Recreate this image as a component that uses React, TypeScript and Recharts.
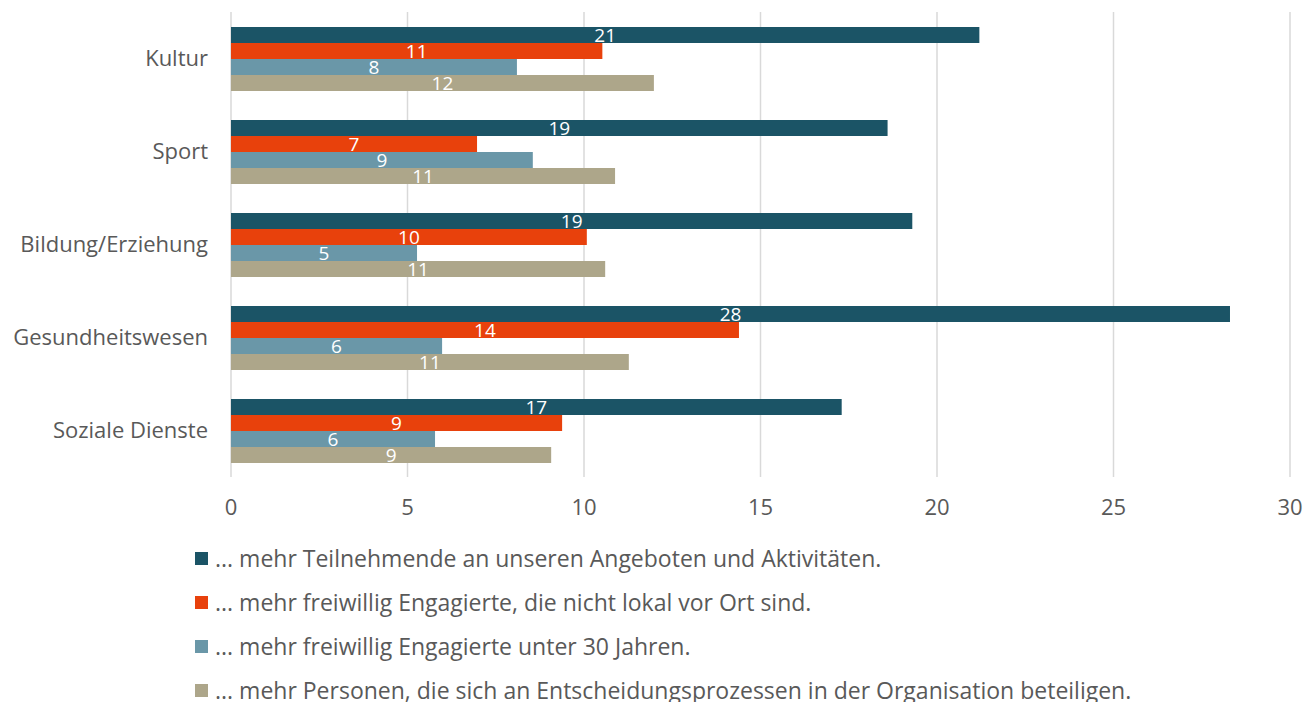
import React from "react"
import { BarChart, Bar, XAxis, YAxis, CartesianGrid, LabelList } from "recharts"

// drop the default body margin so the chart lines up with the page edges
if (typeof document !== "undefined") document.body.style.margin = "0"

const categories = ["Kultur", "Sport", "Bildung/Erziehung", "Gesundheitswesen", "Soziale Dienste"]
const teilnehmende = [21.2, 18.6, 19.3, 28.3, 17.3]
const nichtLokal = [10.52, 6.97, 10.08, 14.39, 9.38]
const unter30 = [8.1, 8.55, 5.27, 5.98, 5.78]
const entscheidung = [11.98, 10.88, 10.6, 11.27, 9.07]
const xTicks = [0, 5, 10, 15, 20, 25, 30]

const seriesNames = [
  "... mehr Teilnehmende an unseren Angeboten und Aktivitäten.",
  "... mehr freiwillig Engagierte, die nicht lokal vor Ort sind.",
  "... mehr freiwillig Engagierte unter 30 Jahren.",
  "... mehr Personen, die sich an Entscheidungsprozessen in der Organisation beteiligen.",
]
const colors = ["#1B5466", "#E8410C", "#6A97A8", "#ADA68A"]

const data = categories.map((name, i) => ({
  name,
  s0: teilnehmende[i],
  s1: nichtLokal[i],
  s2: unter30[i],
  s3: entscheidung[i],
}))

const FONT = "'Open Sans', sans-serif"
const GRAY = "#595959"

export default function App() {
  return (
    <div style={{ position: "relative", width: 1304, height: 702 }}>
      <BarChart
        width={1304}
        height={530}
        data={data}
        layout="vertical"
        margin={{ top: 12, right: 14, bottom: 23, left: 0 }}
        barCategoryGap={15}
        barGap={0}
      >
        <CartesianGrid horizontal={false} stroke="#d9d9d9" strokeWidth={1.5} />
        <XAxis
          type="number"
          domain={[0, 30]}
          ticks={xTicks}
          axisLine={false}
          tickLine={false}
          tickSize={0}
          tickMargin={22}
          tick={{ fill: GRAY, fontSize: 22, fontFamily: FONT }}
        />
        <YAxis
          type="category"
          dataKey="name"
          width={231}
          axisLine={false}
          tickLine={false}
          tickSize={0}
          tickMargin={23}
          tick={{ fill: GRAY, fontSize: 22, fontFamily: FONT }}
        />
        {["s0", "s1", "s2", "s3"].map((k, i) => (
          <Bar key={k} dataKey={k} name={seriesNames[i]} fill={colors[i]} isAnimationActive={false}>
            <LabelList
              dataKey={k}
              position="center"
              fill="#ffffff"
              fontSize={19}
              fontFamily={FONT}
              formatter={(v: any) => Math.round(Number(v))}
            />
          </Bar>
        ))}
      </BarChart>
      {/* legend below the plot, left aligned like the original */}
      <div style={{ position: "absolute", left: 195, top: 536, fontFamily: FONT, fontSize: 23, color: GRAY }}>
        {seriesNames.map((n, i) => (
          <div key={n} style={{ display: "flex", alignItems: "center", height: 44 }}>
            <span style={{ width: 13, height: 13, background: colors[i], display: "inline-block", marginRight: 7 }} />
            <span>{n}</span>
          </div>
        ))}
      </div>
    </div>
  )
}
